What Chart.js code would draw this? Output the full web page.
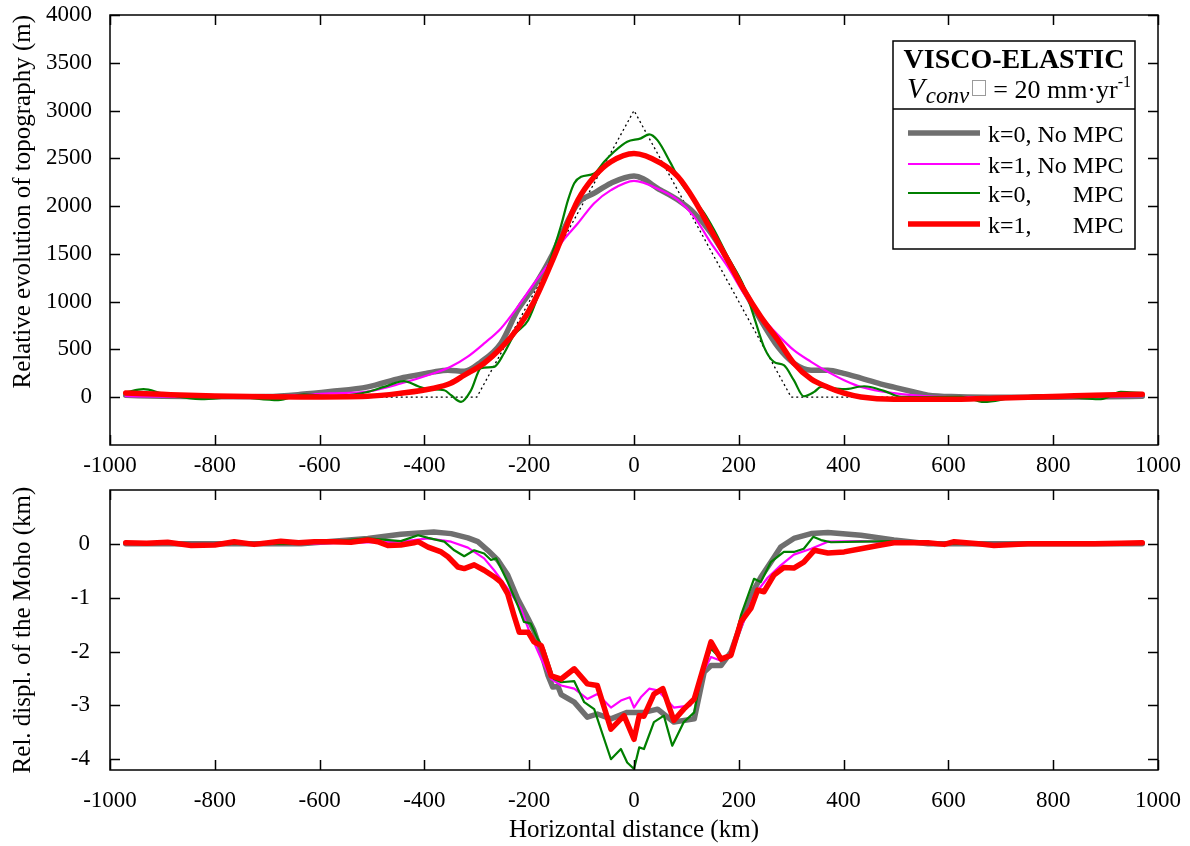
<!DOCTYPE html>
<html><head><meta charset="utf-8">
<script src="https://cdn.jsdelivr.net/npm/chart.js@4.4.0/dist/chart.umd.min.js"></script>
<style>
html,body{margin:0;padding:0;background:#fff;width:1190px;height:846px;overflow:hidden;}
#c1{position:absolute;left:0;top:0;}
#c2{position:absolute;left:0;top:480px;}
</style></head><body>
<canvas id="c1" width="1190" height="480"></canvas>
<canvas id="c2" width="1190" height="366"></canvas>
<script>
// ---------- tick labels ----------
const xTicks = [-1000,-800,-600,-400,-200,0,200,400,600,800,1000];
const topYTicks = [0,500,1000,1500,2000,2500,3000,3500,4000];
const botYTicks = [0,-1,-2,-3,-4];

// ---------- legend ----------
const legendTitle = 'VISCO-ELASTIC';
const seriesNames = ['k=0, No MPC','k=1, No MPC','k=0,','k=1,'];

// ---------- TOP: relative evolution of topography (m) ----------
const topInitX = [-970,-300,0,300,970];
const topInitY = [0,0,3000,0,0];

const topK0NoX = [-970,-900,-800,-700,-635,-580,-508,-445,-400,-382,-355,-324,-292,-254,-222,-191,-158,-139,-107,-76,-44,0,51,84,115,147,179,210,242,275,305,338,370,400,433,470,496,530,561,620,700,800,900,970];
const topK0NoY = [20,10,5,8,30,60,108,200,245,265,283,272,370,565,911,1155,1469,1700,2030,2135,2240,2314,2167,2063,1927,1717,1435,1120,806,524,356,283,283,250,199,140,105,60,21,5,0,0,5,10];

const topK1NoX = [-970,-900,-800,-700,-635,-580,-508,-445,-382,-350,-318,-286,-254,-222,-191,-158,-139,-107,-76,-44,0,51,84,115,147,179,210,242,275,305,338,370,401,433,496,561,650,800,900,970];
const topK1NoY = [10,5,0,5,25,40,60,143,250,318,422,563,720,946,1190,1435,1612,1820,2030,2167,2265,2167,2063,1888,1612,1364,1082,850,650,492,370,265,178,108,42,10,0,0,5,10];

const topK0MpcX = [-970,-936,-900,-826,-760,-679,-630,-580,-520,-508,-477,-439,-412,-393,-362,-349,-330,-311,-292,-267,-248,-229,-202,-177,-158,-139,-126,-114,-101,-76,-57,-38,-13,13,29,45,70,90,115,134,153,179,210,229,248,267,286,305,324,344,357,401,439,477,510,561,624,668,719,783,891,929,970];
const topK0MpcY = [50,84,40,-20,0,-31,31,10,40,56,108,168,115,84,73,21,-49,73,304,318,460,649,806,1155,1469,1800,2063,2240,2307,2342,2464,2569,2674,2709,2751,2688,2450,2240,2063,1927,1749,1469,1155,841,527,370,335,178,10,56,108,84,115,66,3,0,3,-49,-10,21,-21,56,42];

const topK1MpcX = [-970,-900,-800,-700,-635,-508,-445,-382,-350,-324,-286,-254,-222,-191,-158,-139,-107,-76,-44,0,51,84,115,147,179,210,242,275,305,338,370,401,433,496,561,624,687,752,815,878,970];
const topK1MpcY = [45,30,12,4,3,10,42,94,146,230,356,513,722,998,1400,1650,2063,2307,2464,2551,2450,2307,2063,1749,1435,1120,841,597,356,190,105,42,3,-21,-20,-20,-10,0,10,21,31];

// ---------- BOTTOM: rel. displacement of the Moho (km) ----------
const botK0NoX = [-970,-800,-635,-508,-445,-382,-349,-317,-298,-279,-260,-241,-222,-202,-191,-177,-164,-155,-145,-139,-114,-89,-70,-44,-13,19,45,76,115,134,147,166,185,210,229,242,261,280,305,338,370,433,496,561,700,970];
const botK0NoY = [0,0,0,0.1,0.18,0.22,0.19,0.11,0.04,-0.12,-0.3,-0.58,-1.02,-1.39,-1.61,-2.01,-2.45,-2.66,-2.65,-2.8,-2.94,-3.22,-3.16,-3.25,-3.13,-3.13,-3.07,-3.31,-3.25,-2.38,-2.26,-2.26,-2.01,-1.33,-0.85,-0.62,-0.34,-0.06,0.1,0.19,0.21,0.16,0.07,0,0,0];

const botK1NoX = [-970,-635,-445,-393,-349,-317,-286,-267,-241,-216,-197,-177,-158,-139,-114,-89,-70,-44,-25,-8,0,13,29,45,76,108,128,147,166,185,204,229,255,280,305,338,370,433,496,561,970];
const botK1NoY = [0,0,0.04,0.1,0.04,-0.07,-0.27,-0.49,-0.83,-1.2,-1.7,-2.14,-2.51,-2.63,-2.69,-2.88,-2.79,-3.04,-2.91,-2.85,-3.04,-2.85,-2.69,-2.72,-3.04,-3.0,-2.45,-2.1,-2.17,-2.05,-1.57,-0.96,-0.63,-0.4,-0.2,-0.09,0.04,0.05,0.03,0,0];

const botK0MpcX = [-970,-635,-508,-445,-412,-393,-362,-343,-324,-305,-286,-273,-263,-241,-222,-210,-197,-184,-172,-153,-139,-114,-95,-76,-44,-25,-13,0,10,19,38,57,73,95,115,128,147,166,185,204,229,242,261,286,305,324,342,357,376,433,496,561,970];
const botK0MpcY = [0,0,0.1,0.05,0.16,0.11,0.04,-0.12,-0.23,-0.12,-0.18,-0.3,-0.27,-0.71,-1.14,-1.45,-1.48,-1.76,-1.95,-2.51,-2.57,-2.55,-2.94,-3.07,-4.0,-3.81,-4.06,-4.18,-3.78,-3.81,-3.31,-3.19,-3.75,-3.31,-3.13,-2.45,-1.95,-2.14,-2.07,-1.33,-0.65,-0.71,-0.34,-0.15,-0.15,-0.09,0.13,0.07,0.03,0.04,0.05,0,0];

const botK1MpcX = [-970,-930,-890,-845,-800,-763,-725,-674,-640,-610,-573,-540,-508,-489,-470,-445,-420,-412,-393,-368,-355,-336,-324,-305,-286,-267,-254,-241,-229,-219,-202,-191,-177,-158,-139,-114,-89,-70,-44,-19,0,10,19,38,55,76,95,115,128,147,166,185,204,223,236,248,267,286,305,324,344,370,401,433,466,496,561,592,611,657,687,752,815,878,930,970];
const botK1MpcY = [0.02,0.01,0.03,-0.03,-0.02,0.04,-0.01,0.05,0.02,0.04,0.04,0.03,0.07,0.04,-0.03,-0.02,0.02,0.04,-0.06,-0.15,-0.24,-0.43,-0.46,-0.39,-0.49,-0.61,-0.71,-0.93,-1.33,-1.64,-1.64,-1.82,-1.89,-2.45,-2.51,-2.32,-2.6,-2.63,-3.44,-3.19,-3.63,-3.19,-3.2,-2.79,-2.69,-3.28,-3.07,-2.88,-2.45,-1.82,-2.14,-2.07,-1.45,-1.2,-0.86,-0.89,-0.58,-0.44,-0.45,-0.34,-0.12,-0.17,-0.15,-0.09,-0.03,0.02,0.02,-0.01,0.04,0,-0.03,0,0,0,0.01,0.02];

// ---------- styling ----------
const FONT = '"Liberation Serif", "Times New Roman", serif';
const GRAY = '#6f6f6f', MAG = '#ff00ff', GRN = '#007f00', RED = '#ff0000';
const styles = [
  {color: GRAY, width: 5.5},
  {color: MAG, width: 2.2},
  {color: GRN, width: 2.2},
  {color: RED, width: 5.5}
];
Chart.defaults.font.family = FONT;
Chart.defaults.color = '#000';

function pts(xs, ys){ return xs.map((x,i)=>({x:x, y:ys[i]})); }
function ds(xs, ys, st, order, smooth){
  return {data: pts(xs, ys), borderColor: st.color, borderWidth: st.width, pointRadius: 0,
    fill: false, order: order, borderJoinStyle: 'round', borderCapStyle: 'round',
    tension: smooth ? 0.4 : 0, cubicInterpolationMode: smooth ? 'monotone' : 'default'};
}

const framePlugin = {
  id: 'frameTicks',
  afterDatasetsDraw(chart){
    const {ctx, chartArea: a, scales} = chart;
    ctx.save();
    ctx.strokeStyle = '#000';
    ctx.lineWidth = 1.5;
    ctx.strokeRect(a.left, a.top, a.right - a.left, a.bottom - a.top);
    const L = 10;
    ctx.beginPath();
    scales.x.ticks.forEach(t => {
      const p = Math.round(scales.x.getPixelForValue(t.value)) + 0.5;
      ctx.moveTo(p, a.bottom); ctx.lineTo(p, a.bottom - L);
      ctx.moveTo(p, a.top); ctx.lineTo(p, a.top + L);
    });
    scales.y.ticks.forEach(t => {
      const p = Math.round(scales.y.getPixelForValue(t.value)) + 0.5;
      ctx.moveTo(a.left, p); ctx.lineTo(a.left + L, p);
      ctx.moveTo(a.right, p); ctx.lineTo(a.right - L, p);
    });
    ctx.stroke();
    ctx.restore();
  }
};

const legendPlugin = {
  id: 'boxLegend',
  afterDraw(chart){
    const ctx = chart.ctx;
    ctx.save();
    const L = 893, T = 41, R = 1135, B = 249, S = 109;
    ctx.fillStyle = '#fff';
    ctx.fillRect(L, T, R - L, B - T);
    ctx.strokeStyle = '#000';
    ctx.lineWidth = 1.5;
    ctx.strokeRect(L, T, R - L, B - T);
    ctx.beginPath(); ctx.moveTo(L, S); ctx.lineTo(R, S); ctx.stroke();
    ctx.fillStyle = '#000';
    ctx.textBaseline = 'alphabetic';
    ctx.textAlign = 'center';
    ctx.font = 'bold 28px ' + FONT;
    ctx.fillText(legendTitle, (L + R) / 2, 68);
    // subtitle
    ctx.textAlign = 'left';
    ctx.font = 'italic 29px ' + FONT;
    ctx.fillText('V', 907, 98);
    let x = 907 + ctx.measureText('V').width + 1;
    ctx.font = 'italic 23px ' + FONT;
    ctx.fillText('conv', x, 103);
    x += ctx.measureText('conv').width + 3;
    ctx.strokeStyle = '#9a9a9a';
    ctx.lineWidth = 1;
    ctx.strokeRect(Math.round(x) + 0.5, 80.5, 13, 15);
    ctx.fillStyle = '#000';
    ctx.font = '16px ' + FONT;
    const sup = '-1';
    const wSup = ctx.measureText(sup).width;
    ctx.font = '26px ' + FONT;
    const main = '= 20 mm\u00B7yr';
    const wMain = ctx.measureText(main).width;
    const rightEdge = 1131;
    ctx.fillText(main, rightEdge - wSup - wMain, 98);
    ctx.font = '16px ' + FONT;
    ctx.fillText(sup, rightEdge - wSup, 87);
    // entries
    const rows = [133, 164, 193, 224];
    ctx.font = '24px ' + FONT;
    const fullW = ctx.measureText(seriesNames[0]).width;
    rows.forEach((y, i) => {
      ctx.strokeStyle = styles[i].color;
      ctx.lineWidth = styles[i].width;
      ctx.lineCap = 'butt';
      ctx.beginPath(); ctx.moveTo(908, y); ctx.lineTo(980, y); ctx.stroke();
      ctx.fillStyle = '#000';
      ctx.textAlign = 'left';
      ctx.fillText(seriesNames[i], 988, y + 9);
      if (i >= 2) {
        ctx.textAlign = 'right';
        ctx.fillText('MPC', 988 + fullW, y + 9);
      }
    });
    ctx.restore();
  }
};

function xScale(height, pad){
  return {
    type: 'linear', min: -1000, max: 1000,
    afterBuildTicks: s => { s.ticks = xTicks.map(v => ({value: v})); },
    afterFit: s => { s.height = height; s.paddingLeft = 0; s.paddingRight = 0; },
    grid: {display: false, drawTicks: false},
    border: {display: false},
    ticks: {font: {size: 23, family: FONT}, color: '#000', padding: pad, maxRotation: 0, minRotation: 0, autoSkip: false, callback: v => String(v)}
  };
}
function yFit(s){ s.width = 110; s.paddingTop = 0; s.paddingBottom = 0; }

new Chart(document.getElementById('c1'), {
  type: 'line',
  data: {datasets: [
    ds(topK1MpcX, topK1MpcY, styles[3], 0, true),
    ds(topK0MpcX, topK0MpcY, styles[2], 1, true),
    ds(topK1NoX, topK1NoY, styles[1], 2, true),
    ds(topK0NoX, topK0NoY, styles[0], 3, true),
    {data: pts(topInitX, topInitY), borderColor: '#000', borderWidth: 1.3, borderDash: [2, 3], pointRadius: 0, fill: false, order: 4, tension: 0}
  ]},
  options: {
    responsive: false, animation: false, devicePixelRatio: 1,
    layout: {padding: {left: 0, right: 32, top: 15, bottom: 0}},
    plugins: {legend: {display: false}, tooltip: {enabled: false}},
    scales: {
      x: xScale(35, 7),
      y: {
        type: 'linear', min: -500, max: 4000,
        afterBuildTicks: s => { s.ticks = topYTicks.map(v => ({value: v})); },
        afterFit: yFit,
        grid: {display: false, drawTicks: false},
        border: {display: false},
        ticks: {font: {size: 23, family: FONT}, color: '#000', padding: 18, callback: v => String(v)},
        title: {display: true, text: 'Relative evolution of topography (m)', align: 'end', color: '#000', font: {size: 25, family: FONT}, padding: {top: 8, bottom: 0}}
      }
    }
  },
  plugins: [framePlugin, legendPlugin]
});

new Chart(document.getElementById('c2'), {
  type: 'line',
  data: {datasets: [
    ds(botK1MpcX, botK1MpcY, styles[3], 0, false),
    ds(botK0MpcX, botK0MpcY, styles[2], 1, false),
    ds(botK1NoX, botK1NoY, styles[1], 2, false),
    ds(botK0NoX, botK0NoY, styles[0], 3, false)
  ]},
  options: {
    responsive: false, animation: false, devicePixelRatio: 1,
    layout: {padding: {left: 0, right: 32, top: 10, bottom: 0}},
    plugins: {legend: {display: false}, tooltip: {enabled: false}},
    scales: {
      x: Object.assign(xScale(76, 17), {
        title: {display: true, text: 'Horizontal distance (km)', color: '#000', font: {size: 25, family: FONT}, padding: {top: 0, bottom: 1}}
      }),
      y: {
        type: 'linear', min: -4.2, max: 1,
        afterBuildTicks: s => { s.ticks = botYTicks.map(v => ({value: v})); },
        afterFit: yFit,
        grid: {display: false, drawTicks: false},
        border: {display: false},
        ticks: {font: {size: 23, family: FONT}, color: '#000', padding: 20, callback: v => String(v)},
        title: {display: true, text: 'Rel. displ. of the Moho (km)', color: '#000', font: {size: 25, family: FONT}, padding: {top: 8, bottom: 0}}
      }
    }
  },
  plugins: [framePlugin]
});
</script>
</body></html>
